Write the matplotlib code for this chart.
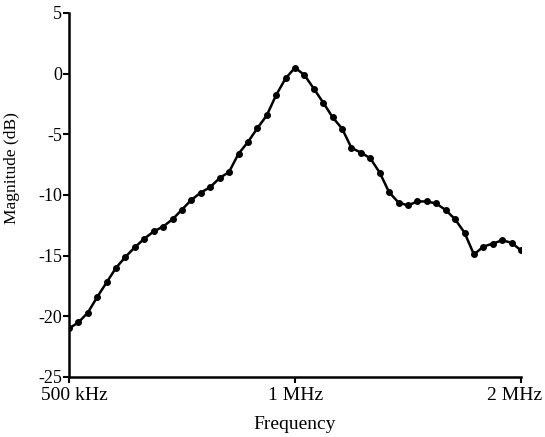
import matplotlib
matplotlib.use("Agg")
from matplotlib import pyplot as plt
from matplotlib.ticker import FixedLocator, NullLocator
from matplotlib.transforms import ScaledTranslation

# frequencies in kHz (1/24 octave steps from 500 kHz to 2 MHz)
freq_khz = [500.0, 514.6, 529.7, 545.3, 561.2, 577.6, 594.6, 612.0, 630.0, 648.4,
            667.4, 686.9, 707.1, 727.8, 749.1, 771.1, 793.7, 816.9, 840.9, 865.5,
            890.9, 917.0, 943.9, 971.5, 1000.0, 1029.3, 1059.5, 1090.5, 1122.5,
            1155.4, 1189.2, 1224.1, 1259.9, 1296.8, 1334.8, 1373.9, 1414.2, 1455.7,
            1498.3, 1542.2, 1587.4, 1633.9, 1681.8, 1731.1, 1781.8, 1834.1, 1887.7,
            1943.1, 2000.0]
magnitude_db = [-21.0, -20.5, -19.7, -18.4, -17.2, -16.0, -15.1, -14.3, -13.6, -13.0,
                -12.6, -12.0, -11.2, -10.4, -9.8, -9.35, -8.6, -8.1, -6.6, -5.64,
                -4.5, -3.44, -1.76, -0.39, 0.49, -0.11, -1.24, -2.39, -3.6, -4.53,
                -6.13, -6.5, -6.98, -8.16, -9.78, -10.62, -10.86, -10.53, -10.53,
                -10.7, -11.24, -12.0, -13.1, -14.9, -14.26, -14.0, -13.74, -13.93,
                -14.57]

x_ticks = [500.0, 1000.0, 2000.0]
x_tick_labels = ["500 kHz", "1 MHz", "2 MHz"]
y_ticks = [5, 0, -5, -10, -15, -20, -25]

plt.rcParams["font.family"] = ["Liberation Serif", "DejaVu Serif"]

fig = plt.figure(figsize=(5.45, 4.37), dpi=100)
ax = fig.add_axes([69 / 545, 1 - 377 / 437, (521 - 69) / 545, (377 - 13) / 437])

ax.plot(freq_khz, magnitude_db, color="black", lw=1.8, marker="o", ms=4.0)

ax.set_xscale("log")
ax.set_xlim(500, 2000)
ax.set_ylim(-25, 5)
ax.xaxis.set_major_locator(FixedLocator(x_ticks))
ax.xaxis.set_minor_locator(NullLocator())
ax.set_xticklabels(x_tick_labels)
ax.set_yticks(y_ticks)
ax.set_yticklabels([str(v) for v in y_ticks])

for side in ["top", "right"]:
    ax.spines[side].set_visible(False)
for side in ["left", "bottom"]:
    ax.spines[side].set_linewidth(1.8)
ax.tick_params(width=1.5, length=4)
ax.tick_params(axis="x", labelsize=14, pad=3)
ax.tick_params(axis="y", labelsize=13, pad=1)

# nudge the end labels inward so they stay inside the figure
shifts = [5, 1, -6]
for lab, dx in zip(ax.get_xticklabels(), shifts):
    lab.set_transform(lab.get_transform() + ScaledTranslation(dx / 100, 0, fig.dpi_scale_trans))

ax.set_xlabel("Frequency", fontsize=14, labelpad=9)
ax.set_ylabel("Magnitude (dB)", fontsize=12.5)
ax.yaxis.set_label_coords(-0.108, 0.574)

fig.savefig("out.png", dpi=100)
